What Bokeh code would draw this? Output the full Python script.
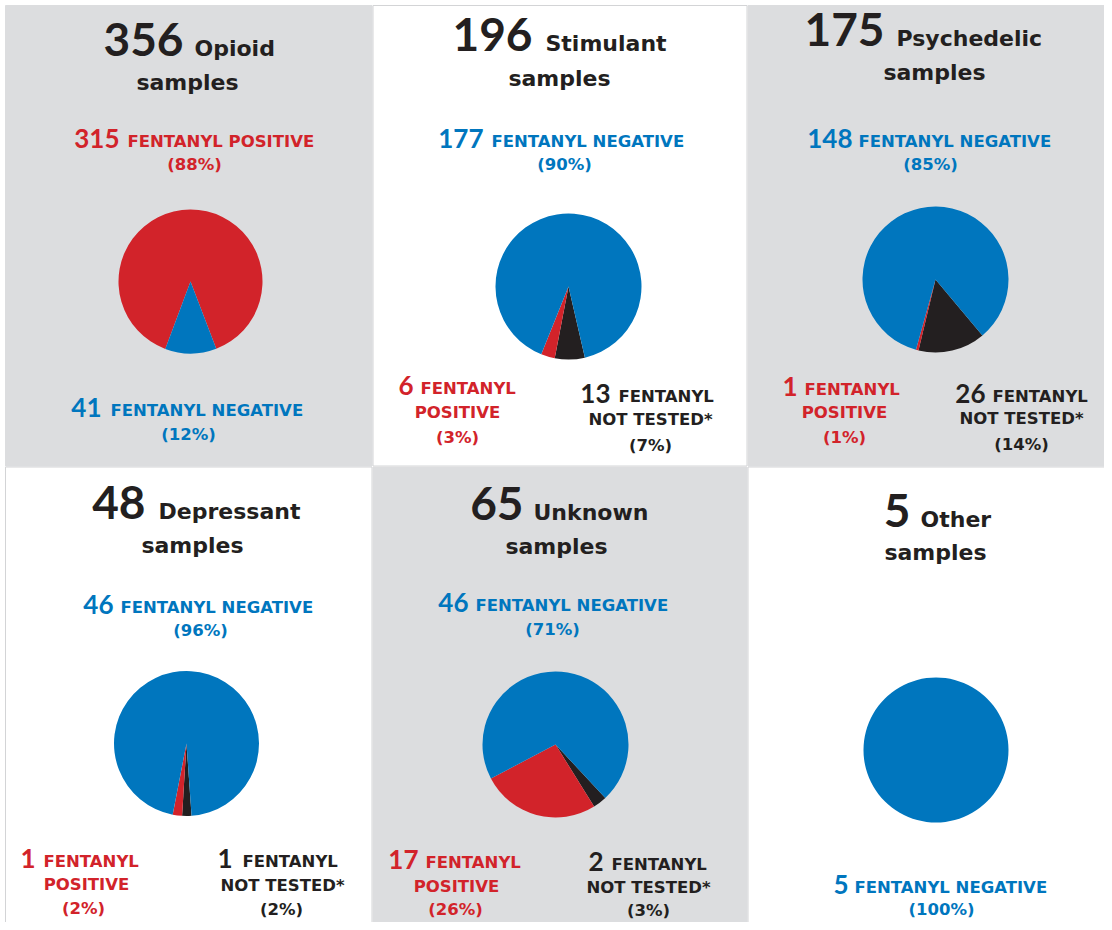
from bokeh.plotting import figure
from bokeh.models import Range1d, ColumnDataSource
from bokeh.core.properties import value
from bokeh.embed import file_html
from bokeh.resources import INLINE

# ---------------- data ----------------
categories = ["Opioid", "Stimulant", "Psychedelic", "Depressant", "Unknown", "Other"]
totals = [356, 196, 175, 48, 65, 5]
positive = [315, 6, 1, 1, 17, 0]
negative = [41, 177, 148, 46, 46, 5]
not_tested = [0, 13, 26, 1, 2, 0]
pct_positive = [88, 3, 1, 2, 26, 0]
pct_negative = [12, 90, 85, 96, 71, 100]
pct_not_tested = [0, 7, 14, 2, 3, 0]

# ---------------- style ----------------
RED = "#d2232a"
BLUE = "#0076be"
BLACK = "#231f20"
GRAY = "#dcdddf"
BORDER = "#d3d4d6"
NUM_FONT = "Lato"
TXT_FONT = "DejaVu Sans"
BASE_SHIFT = 0.36  # em correction so glyph baselines land where measured

W, H = 1104, 922


def Y(y):
    return H - y


p = figure(width=W, height=H, output_backend="svg", toolbar_location=None,
           x_range=Range1d(0, W), y_range=Range1d(0, H),
           min_border=0, outline_line_color=None, background_fill_color="white",
           border_fill_color="white")
p.axis.visible = False
p.grid.visible = False

# ---------------- layout (reference pixel positions) ----------------
col_edges = [(5, 371.5), (372.5, 746.5), (747.5, 1112)]
row_edges = [(5, 465.5), (466.5, 930)]
gray_panels = [True, False, True, False, True, False]

layouts = [
    dict(title=(183, 194, 56), samples=(187, 90), pie=(190, 281, 72), start=200.5,
         labels=[("pos", "single", 119, 127, 147, 194, 170),
                 ("neg", "single", 101, 110, 416, 188, 440)]),
    dict(title=(532, 545, 51), samples=(559, 86), pie=(568, 286, 73), start=167,
         labels=[("neg", "single", 483, 491, 147, 564, 170),
                 ("pos", "two", 413, 420, 394, 457, 418, 457, 443),
                 ("nt", "two", 610, 618, 402, 650, 425, 650, 451)]),
    dict(title=(884, 896, 46), samples=(934, 80), pie=(935, 279, 73), start=140,
         labels=[("neg", "single", 852, 858, 147, 930, 170),
                 ("pos", "two", 797, 804, 395, 844, 418, 844, 443),
                 ("nt", "two", 985, 992, 402, 1021, 424, 1021, 450)]),
    dict(title=(145, 158, 519), samples=(192, 553), pie=(186, 743, 72.5), start=176,
         labels=[("neg", "single", 113, 120, 613, 200, 636),
                 ("pos", "two", 35, 43, 867, 86, 890, 83, 914),
                 ("nt", "two", 232, 242, 867, 282, 891, 281, 915)]),
    dict(title=(523, 533, 520), samples=(556, 554), pie=(555, 744, 73), start=137,
         labels=[("neg", "single", 468, 475, 611, 552, 635),
                 ("pos", "two", 418, 425, 868, 456, 892, 455, 915),
                 ("nt", "two", 603, 611, 870, 648, 893, 648, 916)]),
    dict(title=(910, 920, 527), samples=(935, 560), pie=(935.5, 749.5, 72.5), start=0,
         labels=[("neg", "single", 848, 854, 893, 941, 915)]),
]

# ---------------- panels ----------------
qs = dict(l=[], r=[], t=[], b=[], fill=[], line=[])
for i in range(6):
    r, c = divmod(i, 3)
    x0, x1 = col_edges[c]
    y0, y1 = row_edges[r]
    qs["l"].append(x0)
    qs["r"].append(x1)
    qs["t"].append(Y(y0))
    qs["b"].append(Y(y1))
    qs["fill"].append(GRAY if gray_panels[i] else "white")
    qs["line"].append(GRAY if gray_panels[i] else BORDER)
p.quad(left="l", right="r", top="t", bottom="b", fill_color="fill", line_color="line",
       line_width=1, source=ColumnDataSource(qs))

# ---------------- pies ----------------
ws = dict(x=[], y=[], r=[], s=[], e=[], c=[])
for i in range(6):
    cx, cy, rad = layouts[i]["pie"]
    a = layouts[i]["start"]
    for cnt, col in ((not_tested[i], BLACK), (positive[i], RED), (negative[i], BLUE)):
        span = cnt / totals[i] * 360.0
        if span <= 0:
            continue
        span = min(span, 359.99)
        ws["x"].append(cx)
        ws["y"].append(Y(cy))
        ws["r"].append(rad)
        ws["s"].append(90 - (a + span))
        ws["e"].append(90 - a)
        ws["c"].append(col)
        a += span
p.wedge(x="x", y="y", radius="r", start_angle="s", end_angle="e",
        start_angle_units="deg", end_angle_units="deg",
        direction="anticlock", fill_color="c", line_color=None, source=ColumnDataSource(ws))


# ---------------- texts ----------------
def T(x, y, s, font, size, color, align):
    p.text(x=[x], y=[Y(y - BASE_SHIFT * size)], text=[s], text_font=value(font),
           text_font_style="bold", text_font_size=f"{size}px", text_color=color,
           text_align=align, text_baseline="alphabetic")


kinds = {
    "pos": (positive, pct_positive, RED, "POSITIVE"),
    "neg": (negative, pct_negative, BLUE, "NEGATIVE"),
    "nt": (not_tested, pct_not_tested, BLACK, "NOT TESTED*"),
}

for i in range(6):
    L = layouts[i]
    nr, wl, ty = L["title"]
    T(nr, ty, str(totals[i]), NUM_FONT, 46, BLACK, "right")
    T(wl, ty, categories[i], TXT_FONT, 22, BLACK, "left")
    sx, sy = L["samples"]
    T(sx, sy, "samples", TXT_FONT, 22, BLACK, "center")
    for lab in L["labels"]:
        kind, mode = lab[0], lab[1]
        counts, pcts, col, word = kinds[kind]
        if mode == "single":
            _, _, nrx, llx, ly, pcx, pcy = lab
            T(nrx, ly, str(counts[i]), NUM_FONT, 26, col, "right")
            T(llx, ly, "FENTANYL " + word, TXT_FONT, 16.5, col, "left")
            T(pcx, pcy, f"({pcts[i]}%)", TXT_FONT, 16.5, col, "center")
        else:
            _, _, nrx, llx, ly, c2x, l2y, pcx, pcy = lab
            T(nrx, ly, str(counts[i]), NUM_FONT, 26, col, "right")
            T(llx, ly, "FENTANYL", TXT_FONT, 16.5, col, "left")
            T(c2x, l2y, word, TXT_FONT, 16.5, col, "center")
            T(pcx, pcy, f"({pcts[i]}%)", TXT_FONT, 16.5, col, "center")

open("out.html", "w").write(file_html(p, INLINE))
